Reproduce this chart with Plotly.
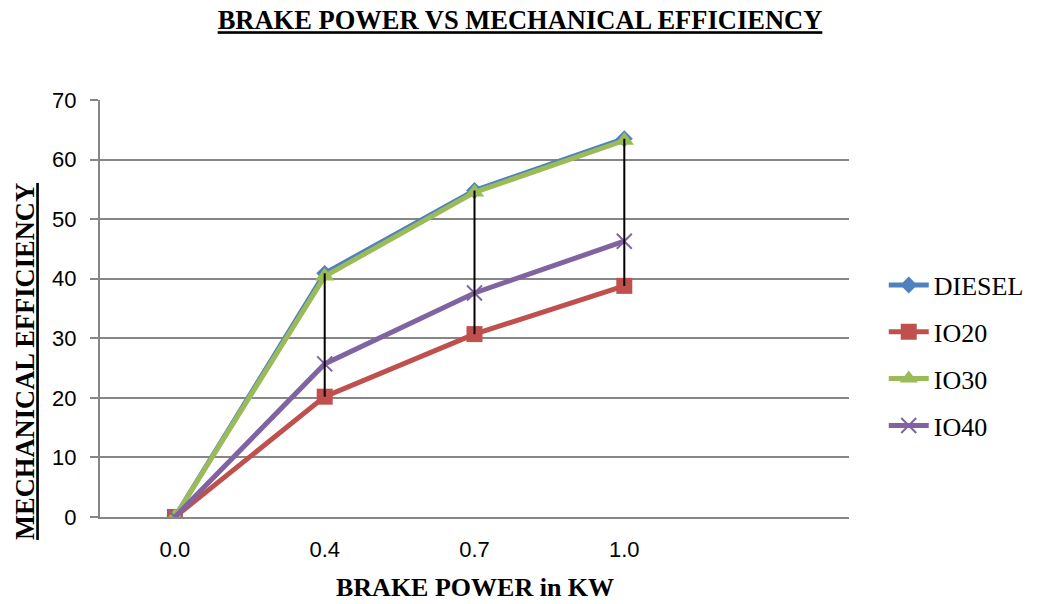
import plotly.graph_objects as go

# 数据
brake_power = ['0.0', '0.4', '0.7', '1.0']
diesel = [0, 40.9, 54.8, 63.5]
io20 = [0, 20.2, 30.7, 38.8]
io30 = [0, 40.4, 54.5, 63.2]
io40 = [0, 25.7, 37.6, 46.3]

x_idx = list(range(len(brake_power)))

serif = 'Liberation Serif, Times New Roman, serif'
tick_font = 'Liberation Sans, Arial, sans-serif'

fig = go.Figure()

series = [
    ('DIESEL', diesel, '#4F81BD', dict(symbol='diamond', size=13)),
    ('IO20', io20, '#C0504D', dict(symbol='square', size=16)),
    ('IO30', io30, '#9BBB59', dict(symbol='triangle-up', size=17)),
    ('IO40', io40, '#8064A2', dict(symbol='x-thin-open', size=15, line=dict(width=2, color='#8064A2'))),
]

for name, vals, color, marker in series:
    fig.add_trace(go.Scatter(
        x=x_idx, y=vals, name=name, legendgroup=name, mode='lines+markers',
        line=dict(color=color, width=5),
        marker=dict(color=color, **marker)
    ))

# 高低连线（每个类别的最大值到最小值）
drop_x, drop_y = [], []
for i in x_idx:
    col = [diesel[i], io20[i], io30[i], io40[i]]
    if max(col) == min(col):
        continue
    drop_x += [i, i, None]
    drop_y += [max(col), min(col), None]
fig.add_trace(go.Scatter(
    x=drop_x, y=drop_y, mode='lines', line=dict(color='black', width=2),
    showlegend=False, hoverinfo='skip'
))

fig.update_layout(
    width=1040, height=604,
    paper_bgcolor='white', plot_bgcolor='white',
    margin=dict(l=100, r=190, t=100, b=87),
    title=dict(text='<b><u>BRAKE POWER VS MECHANICAL EFFICIENCY</u></b>',
               x=0.5, xanchor='center', y=0.967, yanchor='middle',
               font=dict(family=serif, size=26.5, color='black')),
    legend=dict(x=1.045, xanchor='left', y=0.387, yanchor='middle',
                font=dict(family=serif, size=26, color='black'),
                tracegroupgap=10, itemwidth=40),
    annotations=[
        dict(text='<b><u>MECHANICAL EFFICIENCY</u></b>', textangle=-90,
             xref='paper', yref='paper', x=-0.1, y=0.372, xanchor='center', yanchor='middle',
             showarrow=False, font=dict(family=serif, size=26.5, color='black')),
        dict(text='<b>BRAKE POWER in KW</b>', xref='paper', yref='paper',
             x=0.5, y=-0.17, xanchor='center', yanchor='middle',
             showarrow=False, font=dict(family=serif, size=26, color='black')),
    ],
)

fig.update_xaxes(
    range=[-0.5, 4.5], tickvals=x_idx, ticktext=brake_power,
    showgrid=False, zeroline=False, showline=True, linecolor='#868686', linewidth=2,
    ticks='', tickfont=dict(family=tick_font, size=22, color='black'), ticklabelstandoff=12,
)
fig.update_yaxes(
    range=[0, 70], dtick=10, showgrid=True, gridcolor='#868686', gridwidth=1.5,
    zeroline=False, showline=True, linecolor='#868686', linewidth=2,
    ticks='outside', ticklen=8, tickcolor='#868686', tickwidth=1.5,
    tickfont=dict(family=tick_font, size=22, color='black'), ticklabelstandoff=9,
)

fig.write_html('out.html', config={'displayModeBar': False},
               post_script="document.body.style.margin='0';")
